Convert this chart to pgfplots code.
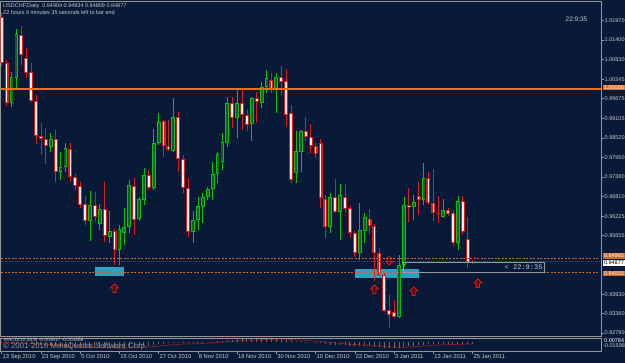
\documentclass[border=0pt]{standalone}
\usepackage{fontspec}
\setmainfont{Liberation Sans}
\newfontfamily\monofont{Liberation Mono}
\usepackage{pgfplots}
\pgfplotsset{compat=1.18}
\usepackage{pgfplotstable}

\definecolor{bg}{RGB}{9,26,56}
\definecolor{frame}{RGB}{150,150,150}
\definecolor{txt}{RGB}{200,200,200}
\definecolor{bullE}{RGB}{0,200,0}
\definecolor{bullF}{RGB}{15,95,35}
\definecolor{bearE}{RGB}{225,25,25}
\definecolor{bearF}{RGB}{255,240,235}
\definecolor{lineor}{RGB}{240,110,20}
\definecolor{dashor}{RGB}{205,105,40}
\definecolor{zone}{RGB}{45,160,190}
\definecolor{macdbar}{RGB}{125,100,80}
\definecolor{bidgray}{RGB}{80,80,90}
\definecolor{arrfill}{RGB}{60,12,12}

\pgfdeclareplotmark{uarr}{%
  \pgfpathmoveto{\pgfqpoint{0pt}{0pt}}%
  \pgfpathlineto{\pgfqpoint{4pt}{-4pt}}%
  \pgfpathlineto{\pgfqpoint{1.6pt}{-4pt}}%
  \pgfpathlineto{\pgfqpoint{1.6pt}{-8.5pt}}%
  \pgfpathlineto{\pgfqpoint{-1.6pt}{-8.5pt}}%
  \pgfpathlineto{\pgfqpoint{-1.6pt}{-4pt}}%
  \pgfpathlineto{\pgfqpoint{-4pt}{-4pt}}%
  \pgfpathclose
  \pgfusepathqfillstroke}
\pgfdeclareplotmark{darr}{%
  \pgfpathmoveto{\pgfqpoint{0pt}{0pt}}%
  \pgfpathlineto{\pgfqpoint{3.5pt}{3.5pt}}%
  \pgfpathlineto{\pgfqpoint{1.5pt}{3.5pt}}%
  \pgfpathlineto{\pgfqpoint{1.5pt}{8pt}}%
  \pgfpathlineto{\pgfqpoint{-1.5pt}{8pt}}%
  \pgfpathlineto{\pgfqpoint{-1.5pt}{3.5pt}}%
  \pgfpathlineto{\pgfqpoint{-3.5pt}{3.5pt}}%
  \pgfpathclose
  \pgfusepathqfillstroke}
\pgfdeclareplotmark{nothing}{}

\pgfplotsset{
  seg/.style 2 args={color=#1, only marks, mark=nothing, mark options={draw=none, fill=none},
    error bars/y dir=plus, error bars/y explicit,
    error bars/error mark=none, error bars/error bar style={color=#1, line width=#2, line cap=butt}},
}

% bullish candles (close > open)
\pgfplotstableread{
i o h l c
2 0.99551 1.00462 0.99434 1.00315
3 1.00286 1.01726 0.99962 1.01579
10 0.98257 0.98669 0.98110 0.98492
12 0.97522 0.98110 0.97287 0.97669
13 0.97669 0.98375 0.97522 0.98228
18 0.96082 0.96964 0.95494 0.96552
20 0.95993 0.96581 0.95817 0.96434
22 0.95611 0.96376 0.95435 0.95788
24 0.95229 0.95964 0.94788 0.95846
25 0.95729 0.96464 0.95376 0.95905
26 0.95905 0.97287 0.95729 0.97140
28 0.96140 0.96787 0.96082 0.96729
29 0.96699 0.97640 0.96552 0.97434
31 0.97052 0.98786 0.96993 0.98375
32 0.98375 0.99257 0.98316 0.98992
35 0.98140 0.99698 0.98110 0.99139
39 0.95758 0.96376 0.95435 0.96111
40 0.96111 0.96787 0.95817 0.96523
41 0.96493 0.96905 0.96023 0.96787
42 0.96787 0.97081 0.96699 0.97022
43 0.97022 0.97816 0.96699 0.97463
44 0.97463 0.98110 0.97199 0.98051
45 0.97816 0.98669 0.97581 0.98404
46 0.98375 0.99727 0.98257 0.99551
48 0.99110 0.99992 0.98522 0.99551
51 0.98933 0.99727 0.98434 0.99698
53 0.99551 1.00168 0.99404 1.00021
54 1.00021 1.00521 0.99845 1.00286
56 0.99962 1.00433 0.99257 1.00315
60 0.97493 0.98728 0.97199 0.98140
61 0.98110 0.98757 0.97522 0.98728
67 0.95905 0.96905 0.95729 0.96787
69 0.96346 0.97169 0.95523 0.96846
73 0.95141 0.96611 0.94935 0.95817
74 0.95788 0.96317 0.95435 0.96199
81 0.93259 0.95082 0.93230 0.94788
82 0.94788 0.96787 0.94729 0.96552
84 0.96493 0.96846 0.96111 0.96640
86 0.96699 0.97787 0.96552 0.97346
90 0.96199 0.96729 0.96170 0.96405
93 0.95435 0.96817 0.95229 0.96670
}\bull

% bearish candles (close < open)
\pgfplotstableread{
i o h l c
0 1.02079 1.02226 1.00639 1.00727
1 1.00727 1.00815 0.99463 0.99551
4 1.01550 1.01815 1.00668 1.00962
5 1.00874 1.01168 1.00286 1.00433
6 1.00462 1.00727 0.99580 0.99610
7 0.99610 0.99786 0.98345 0.98581
8 0.98581 0.98963 0.98022 0.98492
9 0.98492 0.98816 0.97757 0.98287
11 0.98492 0.98757 0.97228 0.97522
14 0.98198 0.98375 0.97228 0.97375
15 0.97375 0.97463 0.96993 0.97111
16 0.97111 0.97228 0.96464 0.96552
17 0.96581 0.96817 0.95964 0.96082
19 0.96552 0.96934 0.96052 0.96199
21 0.96434 0.97228 0.95464 0.95641
23 0.95788 0.95846 0.94788 0.95229
27 0.97111 0.97346 0.95670 0.96111
30 0.97434 0.97581 0.96993 0.97052
33 0.99022 0.99051 0.97963 0.98287
34 0.98287 0.99051 0.98140 0.98169
36 0.99139 0.99286 0.97522 0.97904
37 0.97904 0.98022 0.96905 0.97052
38 0.97052 0.97346 0.95611 0.95758
47 0.99551 0.99727 0.98816 0.99110
49 0.99551 0.99933 0.98757 0.99198
50 0.99198 0.99375 0.98728 0.98904
52 0.99698 0.99874 0.98963 0.99580
55 1.00227 1.00433 0.99845 0.99962
57 1.00315 1.00639 0.99786 1.00168
58 1.00198 1.00550 0.98845 0.99198
59 0.99257 0.99492 0.97199 0.97287
62 0.98728 0.99139 0.98434 0.98551
63 0.98551 0.98933 0.98081 0.98287
64 0.98287 0.98375 0.97934 0.98051
65 0.98375 0.98492 0.96464 0.96758
66 0.96729 0.96846 0.95582 0.95905
68 0.96787 0.97316 0.96317 0.96346
70 0.96787 0.97169 0.96317 0.96434
71 0.96464 0.96523 0.95582 0.95729
72 0.95729 0.95788 0.95023 0.95141
75 0.96140 0.96434 0.95699 0.95935
76 0.95935 0.95993 0.94318 0.95141
77 0.95141 0.95288 0.94465 0.94494
78 0.94494 0.94553 0.93407 0.93436
79 0.93465 0.93906 0.92935 0.93318
80 0.93407 0.93759 0.93230 0.93259
83 0.96552 0.97052 0.96052 0.96493
85 0.96817 0.97228 0.96258 0.96699
87 0.97346 0.97522 0.96552 0.96611
88 0.96611 0.97610 0.96082 0.96317
89 0.96317 0.96817 0.96023 0.96287
91 0.96405 0.96464 0.96229 0.96287
92 0.96317 0.96405 0.95347 0.95435
94 0.96670 0.96817 0.95670 0.95758
95 0.95553 0.96199 0.94700 0.94847
96 0.94904 0.94934 0.94809 0.94877
}\bear

\pgfplotstableread{
i m s
0 -0.0020 0.0000
1 -0.0030 -0.0010
2 -0.0040 -0.0015
3 -0.0030 -0.0020
4 -0.0030 -0.0022
5 -0.0040 -0.0025
6 -0.0050 -0.0030
7 -0.0070 -0.0037
8 -0.0080 -0.0045
9 -0.0090 -0.0053
10 -0.0100 -0.0060
11 -0.0110 -0.0070
12 -0.0120 -0.0080
13 -0.0120 -0.0088
14 -0.0130 -0.0095
15 -0.0140 -0.0104
16 -0.0150 -0.0113
17 -0.0150 -0.0120
18 -0.0150 -0.0126
19 -0.0160 -0.0133
20 -0.0160 -0.0138
21 -0.0160 -0.0142
22 -0.0160 -0.0146
23 -0.0160 -0.0149
24 -0.0160 -0.0151
25 -0.0150 -0.0151
26 -0.0130 -0.0147
27 -0.0120 -0.0142
28 -0.0110 -0.0136
29 -0.0100 -0.0129
30 -0.0090 -0.0121
31 -0.0070 -0.0111
32 -0.0050 -0.0099
33 -0.0040 -0.0087
34 -0.0030 -0.0076
35 -0.0020 -0.0065
36 -0.0020 -0.0056
37 -0.0020 -0.0049
38 -0.0030 -0.0045
39 -0.0030 -0.0042
40 -0.0020 -0.0037
41 -0.0010 -0.0032
42 0.0000 -0.0026
43 0.0010 -0.0018
44 0.0020 -0.0010
45 0.0030 -0.0002
46 0.0050 0.0008
47 0.0060 0.0018
48 0.0070 0.0028
49 0.0070 0.0036
50 0.0070 0.0043
51 0.0075 0.0050
52 0.0078 0.0055
53 0.0078 0.0060
54 0.0078 0.0064
55 0.0078 0.0067
56 0.0077 0.0069
57 0.0075 0.0070
58 0.0070 0.0070
59 0.0050 0.0066
60 0.0030 0.0059
61 0.0020 0.0051
62 0.0010 0.0043
63 0.0000 0.0034
64 -0.0010 0.0025
65 -0.0030 0.0014
66 -0.0050 0.0001
67 -0.0060 -0.0011
68 -0.0070 -0.0023
69 -0.0070 -0.0032
70 -0.0080 -0.0041
71 -0.0090 -0.0051
72 -0.0100 -0.0060
73 -0.0110 -0.0070
74 -0.0110 -0.0078
75 -0.0110 -0.0085
76 -0.0120 -0.0092
77 -0.0130 -0.0100
78 -0.0150 -0.0110
79 -0.0160 -0.0120
80 -0.0160 -0.0128
81 -0.0150 -0.0132
82 -0.0120 -0.0130
83 -0.0100 -0.0124
84 -0.0090 -0.0117
85 -0.0080 -0.0110
86 -0.0060 -0.0100
87 -0.0050 -0.0090
88 -0.0050 -0.0082
89 -0.0050 -0.0076
90 -0.0040 -0.0070
91 -0.0040 -0.0064
92 -0.0040 -0.0060
93 -0.0040 -0.0056
94 -0.0040 -0.0053
95 -0.0040 -0.0050
96 -0.0038 -0.0048
}\macd

\newcommand\fa{\fontsize{5.5}{6.5}\selectfont}
\newcommand\fd{\fontsize{5.8}{7}\selectfont}

\begin{document}
\begin{tikzpicture}[x=1pt,y=1pt]
\fill[bg] (0,0) rectangle (625,363);
\path[use as bounding box] (0,0) rectangle (625,363);

\begin{axis}[
  at={(0.5pt,27pt)}, anchor=south west,
  scale only axis, width=601pt, height=334.5pt,
  xmin=-0.245, xmax=122.28, ymin=0.92701, ymax=1.02535,
  axis line style={frame, line width=0.8pt},
  clip mode=individual,
  xtick=\empty,
  ytick={1.01970,1.01400,1.00830,1.00245,0.99675,0.99105,0.98520,0.97950,0.97380,0.96810,0.96225,0.95655,0.93930,0.93360,0.92790},
  yticklabels={1.01970,1.01400,1.00830,1.00245,0.99675,0.99105,0.98520,0.97950,0.97380,0.96810,0.96225,0.95655,0.93930,0.93360,0.92790},
  ytick pos=right, yticklabel pos=right,
  tick align=outside, major tick length=2pt,
  tick style={frame, line width=0.6pt},
  yticklabel style={font=\fa, text=txt, inner sep=1pt},
]
% demand zones
\fill[zone] (axis cs:19,0.94720) rectangle (axis cs:25,0.94474);
\fill[zone] (axis cs:72,0.94670) rectangle (axis cs:85.1,0.94406);
% wicks
\addplot[seg={bullE}{0.75pt}] table[x=i, y=l, y error plus expr={\thisrow{h}-\thisrow{l}}] {\bull};
\addplot[seg={bearE}{0.75pt}] table[x=i, y=l, y error plus expr={\thisrow{h}-\thisrow{l}}] {\bear};
% bodies: outline then fill
\addplot[seg={bullE}{3.8pt}] table[x=i, y expr={\thisrow{o}-0.00012}, y error plus expr={\thisrow{c}-\thisrow{o}+0.00024}] {\bull};
\addplot[seg={bullF}{2.0pt}] table[x=i, y expr={\thisrow{o}+0.0002}, y error plus expr={max(\thisrow{c}-\thisrow{o}-0.0004,0)}] {\bull};
\addplot[seg={bearE}{4.0pt}] table[x=i, y expr={\thisrow{c}-0.00012}, y error plus expr={\thisrow{o}-\thisrow{c}+0.00024}] {\bear};
\addplot[seg={bearF}{1.7pt}] table[x=i, y expr={\thisrow{c}+0.0002}, y error plus expr={max(\thisrow{o}-\thisrow{c}-0.0004,0)}] {\bear};
% arrows
\addplot[only marks, mark=uarr, mark options={draw=bearE, fill=arrfill, line width=0.8pt}] coordinates {(23,0.94229) (76,0.94200) (84,0.94141) (97.1,0.94377)};
\addplot[only marks, mark=darr, mark options={draw=bearE, fill=arrfill, line width=0.8pt}] coordinates {(79,0.94788)};
\node[anchor=east, font=\monofont\fontsize{7}{8}\selectfont, text=txt, inner sep=1pt] at (axis cs:110.5,0.94716) {< 22:9:35};
% right-side price boxes
\node[anchor=west, fill=lineor, text=white, font=\fa, inner sep=0.8pt, xshift=1.5pt] at (axis cs:122.28,1.0) {1.00000};
\node[anchor=west, fill=dashor, text=white, font=\fa, inner sep=0.8pt, xshift=1.5pt] at (axis cs:122.28,0.95050) {0.94965};
\node[anchor=west, fill=white, text=black, font=\fa, inner sep=0.8pt, xshift=1.5pt] at (axis cs:122.28,0.94850) {0.94877};
\node[anchor=west, fill=dashor, text=white, font=\fa, inner sep=0.8pt, xshift=1.5pt] at (axis cs:122.28,0.94545) {0.94555};
\end{axis}

% horizontal chart objects drawn as thin filled strips (pixel frame: y = 363 - row)
\fill[lineor] (0.9,273.0) rectangle (601.1,275.0);
\foreach \x in {1,4.5,...,598} {
  \fill[dashor] (\x,104.0) rectangle ++(2,1.1);
  \fill[dashor] (\x,90.0) rectangle ++(2,1.1);
}
\foreach \x in {1,3,...,600} {
  \fill[bidgray] (\x,100.6) rectangle ++(1,0.9);
}
% time-left box
\fill[frame] (403,100.6) rectangle (544.4,101.4);
\fill[frame] (403,89.9) rectangle (544.4,90.7);
\fill[frame] (402.6,89.9) rectangle (403.4,101.4);
\fill[frame] (543.6,89.9) rectangle (544.4,101.4);

\begin{axis}[
  at={(0.5pt,11.5pt)}, anchor=south west,
  scale only axis, width=601pt, height=13.5pt,
  xmin=-0.245, xmax=122.28, ymin=-0.0235, ymax=0.0103,
  axis line style={frame, line width=0.8pt},
  ytick=\empty,
  xtick={0,8,16,24,32,40,48,56,64,72,80,88,96},
  xticklabels={13 Sep 2010, 23 Sep 2010, 5 Oct 2010, 15 Oct 2010, 27 Oct 2010, 8 Nov 2010, 18 Nov 2010, 30 Nov 2010, 10 Dec 2010, 22 Dec 2010, 3 Jan 2011, 13 Jan 2011, 25 Jan 2011},
  xtick pos=bottom, tick align=outside, major tick length=2.5pt,
  tick style={frame, line width=0.6pt},
  xticklabel style={anchor=north west, font=\fd, text=txt, inner sep=0pt, xshift=0.8pt, yshift=-0.5pt},
]
\addplot[ycomb, color=macdbar, line width=1pt] table[x=i, y=m] {\macd};
\addplot[color=bearE, dash pattern=on 0.8pt off 0.8pt, line width=0.8pt] table[x=i, y=s] {\macd};
\end{axis}

% texts
\node[anchor=west, font=\fa, text=txt, inner sep=0pt] at (3,357) {USDCHF,Daily\ \ 0.94904 0.94934 0.94809 0.94877};
\node[anchor=west, font=\fa, text=txt, inner sep=0pt] at (3,350.5) {22 hours 9 minutes 35 seconds left to bar end};
\node[font=\fontsize{6.5}{7.5}\selectfont, text=txt] at (576.5,344) {22:9:35};
\node[anchor=west, font=\fontsize{4.8}{5.5}\selectfont, text=txt, inner sep=0pt] at (4,22.8) {MACD(12,26,9) -0.003817 -0.001556};
\node[anchor=west, font=\fontsize{7.8}{9}\selectfont, text={rgb,255:red,150;green,150;blue,150}, inner sep=0pt] at (3,16.3) {\textcopyright\ 2001-2010 MetaQuotes Software Corp.};
\node[anchor=west, font=\fa, text=white, inner sep=0pt] at (604,22.5) {0.00784};
\node[anchor=west, font=\fa, text=txt, inner sep=0pt] at (603,17) {-0.01598};
\end{tikzpicture}
\end{document}
